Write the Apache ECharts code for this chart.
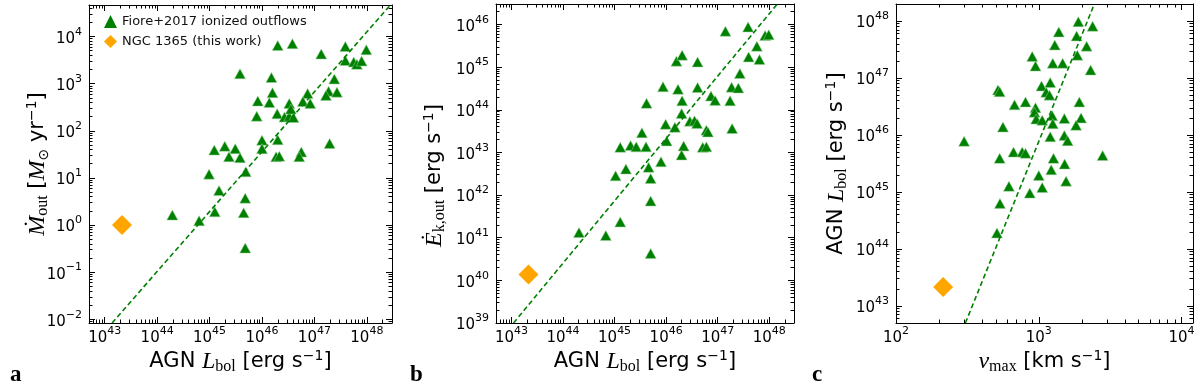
<!DOCTYPE html>
<html>
<head>
<meta charset="utf-8">
<title>Outflow scaling relations</title>
<script src="https://cdn.jsdelivr.net/npm/echarts@6/dist/echarts.min.js"></script>
<style>
  body { margin: 0px; background: white; }
  #chart { width: 1200px; height: 387px; }
</style>
</head>
<body>
<div id="chart"></div>
<script>
  // all values are log10 of the quantity
  // panel a: Lbol [erg/s] vs Mdot_out [Msun/yr]
  const logLbolA = [46.30, 46.58, 47.59, 47.99, 47.13, 47.59, 47.75, 47.81, 47.90, 45.58,
                    46.18, 47.38, 46.20, 47.27, 47.43, 47.22, 46.87, 45.92, 46.14, 46.52,
                    46.78, 46.92, 45.90, 46.29, 46.43, 46.52, 46.60, 46.55, 47.29, 46.00,
                    46.00, 46.30, 45.09, 45.29, 45.49, 45.37, 45.58, 46.27, 46.33, 46.75,
                    46.71, 44.99, 45.69, 45.18, 45.68, 45.10, 45.65, 44.29, 44.80, 45.68]
  const logMdotA = [3.81, 3.85, 3.79, 3.72, 3.63, 3.49, 3.46, 3.41, 3.48, 3.21,
                    3.13, 3.10, 2.81, 2.84, 2.82, 2.75, 2.79, 2.63, 2.60, 2.58,
                    2.62, 2.58, 2.31, 2.36, 2.29, 2.31, 2.28, 2.46, 1.73, 1.80,
                    1.62, 1.81, 1.59, 1.67, 1.62, 1.45, 1.43, 1.45, 1.46, 1.55,
                    1.45, 1.08, 1.13, 0.73, 0.57, 0.28, 0.26, 0.21, 0.09, -0.49]

  // panel b: Lbol [erg/s] vs Ekin_out [erg/s]
  const logLbolB = [47.15, 47.59, 47.92, 47.99, 47.76, 47.60, 47.81, 46.20, 46.31, 46.61,
                    47.43, 45.94, 46.23, 46.61, 47.27, 47.40, 46.87, 46.95, 47.24, 46.31,
                    45.62, 46.30, 46.46, 46.55, 46.60, 45.99, 46.17, 46.78, 46.81, 47.28,
                    45.53, 46.01, 45.11, 45.31, 45.42, 45.61, 46.34, 46.30, 46.71, 46.78,
                    45.90, 45.22, 45.66, 45.02, 45.70, 45.70, 45.11, 44.31, 44.83, 45.70]
  const logEkinB = [45.84, 45.94, 45.74, 45.76, 45.49, 45.24, 45.18, 45.14, 45.28, 45.12,
                    44.85, 44.54, 44.48, 44.52, 44.53, 44.51, 44.32, 44.22, 44.21, 44.21,
                    44.15, 43.91, 43.73, 43.74, 43.68, 43.66, 43.59, 43.52, 43.48, 43.56,
                    43.46, 43.27, 43.12, 43.16, 43.13, 43.13, 43.15, 42.94, 43.12, 43.13,
                    42.78, 42.61, 42.65, 42.45, 42.39, 41.86, 41.37, 41.12, 41.05, 40.63]

  // panel c: vmax [km/s] vs Lbol [erg/s]
  const logVmaxC = [3.277, 3.377, 3.140, 3.265, 3.112, 3.335, 2.954, 3.270, 2.977, 3.098,
                    3.167, 3.363, 2.714, 2.726, 3.019, 3.080, 3.052, 3.075, 2.830, 2.907,
                    2.977, 2.970, 2.982, 3.024, 3.094, 3.098, 3.179, 3.284, 3.296, 3.261,
                    2.749, 3.080, 3.179, 3.202, 2.477, 2.823, 2.884, 2.907, 2.726, 3.103,
                    3.447, 3.181, 3.087, 3.000, 3.191, 2.791, 3.024, 2.937, 2.728, 2.707]
  const logLbolC = [47.99, 47.91, 47.81, 47.74, 47.58, 47.56, 47.38, 47.40, 47.21, 47.26,
                    47.26, 47.14, 46.79, 46.76, 46.86, 46.92, 46.75, 46.70, 46.53, 46.58,
                    46.48, 46.40, 46.28, 46.26, 46.34, 46.20, 46.29, 46.58, 46.30, 46.17,
                    46.14, 45.97, 45.99, 45.90, 45.89, 45.70, 45.70, 45.68, 45.59, 45.59,
                    45.64, 45.49, 45.39, 45.29, 45.19, 45.10, 45.08, 44.98, 44.80, 44.28]

  // NGC 1365
  const ngcLogLbol = [43.33]
  const ngcLogMdot = [0.0]
  const ngcLogEkin = [40.14]
  const ngcLogVmax = [2.33]

  // dashed scaling relations, end points at the frame
  const fitA = { x: [43.14, 48.45], y: [-2.08, 4.67] }
  const fitB = { x: [43.04, 48.15], y: [39.0, 46.47] }
  const fitC = { x: [2.486, 3.389], y: [42.70, 48.30] }

  // axis ranges (log10)
  const rangeA = { x: [42.70, 48.48], y: [-2.08, 4.67] }
  const rangeB = { x: [42.70, 48.48], y: [39.0, 46.48] }
  const rangeC = { x: [2.0, 4.08], y: [42.70, 48.30] }

  const GREEN = '#008000'
  const ORANGE = '#ffa500'
  const SANS = 'DejaVu Sans'
  const MATH = 'Liberation Serif, DejaVu Serif'
  const FIORE = 'Fiore+2017 ionized outflows'
  const NGC = 'NGC 1365 (this work)'

  const pts = (xs, ys) => xs.map((x, i) => [Math.pow(10, x), Math.pow(10, ys[i])])

  const nameRich = {
    t: { fontFamily: SANS, fontSize: 21, color: '#000', lineHeight: 26 },
    m: { fontFamily: MATH, fontStyle: 'italic', fontSize: 24, color: '#000', lineHeight: 26 },
    sub: { fontFamily: MATH, fontSize: 16, color: '#000', lineHeight: 14, verticalAlign: 'bottom' },
    subm: { fontFamily: SANS, fontSize: 14, color: '#000', lineHeight: 14, verticalAlign: 'bottom' },
    sup: { fontFamily: SANS, fontSize: 14, color: '#000', lineHeight: 13, verticalAlign: 'top' }
  }

  function powLabel(v) {
    const e = Math.log10(v)
    const r = Math.round(e)
    if (Math.abs(e - r) > 1e-6) return ''
    return '{b|10}{s|' + String(r).replace('-', '\u2212') + '}'
  }

  function logAxis(grid, pos, range, labels, name, gap, pad) {
    const vertical = pos === 'left' || pos === 'right'
    return {
      type: 'log', logBase: 10, gridIndex: grid, position: pos,
      min: Math.pow(10, range[0]), max: Math.pow(10, range[1]),
      axisLine: { show: true, onZero: false, lineStyle: { color: '#000', width: 1 } },
      axisTick: { show: true, inside: true, length: 6, lineStyle: { color: '#000', width: 1 } },
      minorTick: { show: true, splitNumber: 9, length: 3.5, lineStyle: { color: '#000', width: 1 } },
      splitLine: { show: false },
      minorSplitLine: { show: false },
      axisLabel: {
        show: labels, formatter: powLabel, margin: vertical ? 7 : 3,
        rich: {
          b: { fontFamily: SANS, fontSize: 15, color: '#000', lineHeight: 20, verticalAlign: 'bottom' },
          s: { fontFamily: SANS, fontSize: 11, color: '#000', lineHeight: 10, verticalAlign: 'top' }
        }
      },
      name: labels ? name : '',
      nameLocation: 'middle',
      nameGap: gap,
      nameMoveOverlap: false,
      nameRotate: vertical ? 90 : 0,
      nameTextStyle: { rich: nameRich, padding: pad || 0 }
    }
  }

  const lblL = '{t|AGN }{m|L}{sub|bol}{t| [erg s}{sup|\u22121}{t|]}'
  const lblMdot = '{m|\u1E40}{sub|out}{t| [}{m|M}{subm|\u2299}{t| yr}{sup|\u22121}{t|]}'
  const lblEkin = '{m|\u0116}{sub|k,out}{t| [erg s}{sup|\u22121}{t|]}'
  const lblV = '{m|v}{sub|max}{t| [km s}{sup|\u22121}{t|]}'

  function scatter(name, xAxis, xs, ys) {
    return {
      type: 'scatter', name: name, xAxisIndex: xAxis, yAxisIndex: xAxis,
      symbol: 'triangle', symbolSize: [11, 10],
      itemStyle: { color: GREEN, borderColor: '#9fd49f', borderWidth: 0.5, opacity: 1 },
      data: pts(xs, ys), z: 3
    }
  }
  function diamond(xAxis, xs, ys) {
    return {
      type: 'scatter', name: NGC, xAxisIndex: xAxis, yAxisIndex: xAxis,
      symbol: 'diamond', symbolSize: 20,
      itemStyle: { color: ORANGE, opacity: 1 },
      data: pts(xs, ys), z: 3
    }
  }
  function fitLine(xAxis, fit) {
    return {
      type: 'line', xAxisIndex: xAxis, yAxisIndex: xAxis, symbol: 'none', silent: true,
      lineStyle: { color: GREEN, width: 1.6, type: [5, 3] },
      data: pts(fit.x, fit.y), z: 4
    }
  }

  const chart = echarts.init(document.getElementById('chart'))
  chart.setOption({
    animation: false,
    backgroundColor: '#fff',
    grid: [
      { left: 89, top: 5, width: 303, height: 318, outerBoundsMode: 'none' },
      { left: 496, top: 4, width: 298, height: 319, outerBoundsMode: 'none' },
      { left: 896, top: 4, width: 297, height: 319, outerBoundsMode: 'none' }
    ],
    xAxis: [
      logAxis(0, 'bottom', rangeA.x, true, lblL, 26),
      logAxis(0, 'top', rangeA.x, false),
      logAxis(1, 'bottom', rangeB.x, true, lblL, 26),
      logAxis(1, 'top', rangeB.x, false),
      logAxis(2, 'bottom', rangeC.x, true, lblV, 26),
      logAxis(2, 'top', rangeC.x, false)
    ],
    yAxis: [
      logAxis(0, 'left', rangeA.y, true, lblMdot, 38),
      logAxis(0, 'right', rangeA.y, false),
      logAxis(1, 'left', rangeB.y, true, lblEkin, 48, [0, 24, 0, 0]),
      logAxis(1, 'right', rangeB.y, false),
      logAxis(2, 'left', rangeC.y, true, lblL, 46),
      logAxis(2, 'right', rangeC.y, false)
    ],
    legend: {
      orient: 'vertical', left: 104, top: 15, padding: 0,
      itemWidth: 13, itemHeight: 13, itemGap: 7, selectedMode: false,
      itemStyle: { borderWidth: 0 },
      textStyle: { fontFamily: SANS, fontSize: 13, color: '#111' },
      data: [{ name: FIORE, icon: 'triangle' }, { name: NGC, icon: 'diamond' }]
    },
    graphic: [
      { type: 'text', left: 10, top: 364, style: { text: 'a', font: 'bold 23px "Liberation Serif"', fill: '#000' } },
      { type: 'text', left: 410, top: 364, style: { text: 'b', font: 'bold 23px "Liberation Serif"', fill: '#000' } },
      { type: 'text', left: 812, top: 364, style: { text: 'c', font: 'bold 23px "Liberation Serif"', fill: '#000' } }
    ],
    series: [
      scatter(FIORE, 0, logLbolA, logMdotA),
      diamond(0, ngcLogLbol, ngcLogMdot),
      fitLine(0, fitA),
      scatter(FIORE, 2, logLbolB, logEkinB),
      diamond(2, ngcLogLbol, ngcLogEkin),
      fitLine(2, fitB),
      scatter(FIORE, 4, logVmaxC, logLbolC),
      diamond(4, ngcLogVmax, ngcLogLbol),
      fitLine(4, fitC)
    ]
  })
</script>
</body>
</html>
